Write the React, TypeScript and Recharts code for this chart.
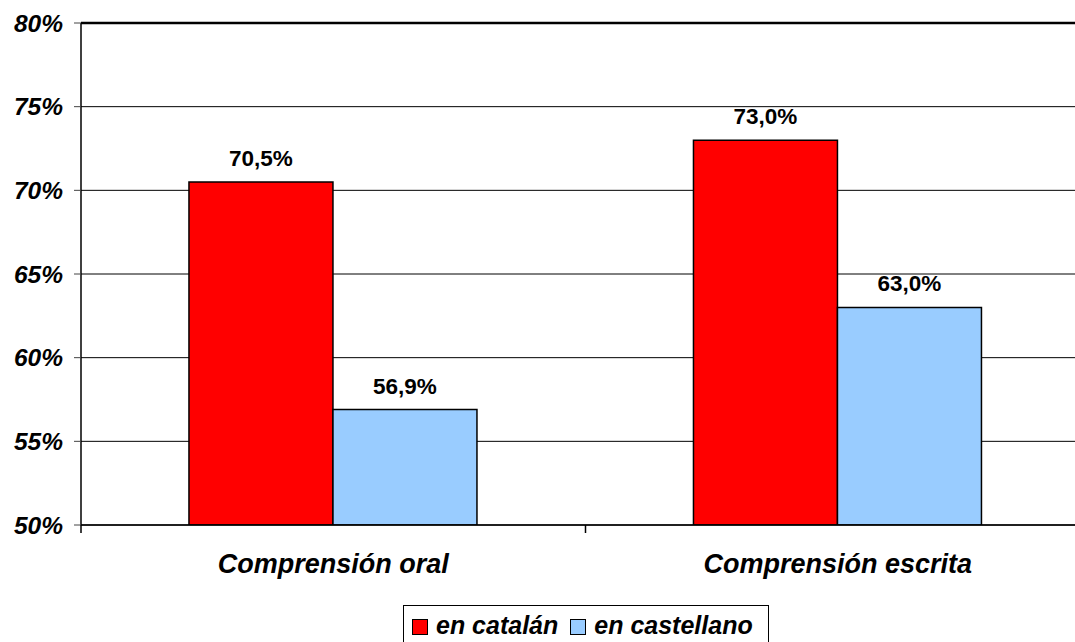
import React from "react";
import { BarChart, Bar, XAxis, YAxis, CartesianGrid, Legend, LabelList, ReferenceLine } from "recharts";

const categories = ["Comprensión oral", "Comprensión escrita"];
const catalanValues = [70.5, 73.0];
const castellanoValues = [56.9, 63.0];
const seriesNames = ["en catalán", "en castellano"];
const yTicks = [50, 55, 60, 65, 70, 75, 80];

const COLORS = ["#FF0000", "#99CCFF"];
const FONT = "'Liberation Sans', Arial, sans-serif";

const CHART_W = 1100;
const CHART_H = 642;
const MARGIN = { top: 23, right: 10, left: 0, bottom: 0 };
const Y_AXIS_W = 81;
const HALF_BAND = (CHART_W - MARGIN.left - MARGIN.right - Y_AXIS_W) / categories.length / 2;

const data = categories.map((name, i) => ({
  name,
  catalan: catalanValues[i],
  castellano: castellanoValues[i],
}));

const fmt = (v: number) => v.toFixed(1).replace(".", ",") + "%";

function CategoryTick(props: any) {
  const { x, y, payload, index } = props;
  return (
    <g>
      {index === 0 && (
        <line x1={x - HALF_BAND} x2={x - HALF_BAND} y1={y - 8} y2={y} stroke="#000" strokeWidth={1.5} />
      )}
      <line x1={x + HALF_BAND} x2={x + HALF_BAND} y1={y - 8} y2={y} stroke="#000" strokeWidth={1.5} />
      <text
        x={x}
        y={y + 40}
        textAnchor="middle"
        fontFamily={FONT}
        fontWeight="bold"
        fontStyle="italic"
        fontSize={27}
        fill="#000"
      >
        {payload.value}
      </text>
    </g>
  );
}

function LegendBox() {
  return (
    <div
      style={{
        border: "1px solid #000",
        height: 44,
        boxSizing: "border-box",
        display: "flex",
        alignItems: "flex-start",
        paddingLeft: 8,
        paddingTop: 5,
        fontFamily: FONT,
        fontWeight: "bold",
        fontStyle: "italic",
        fontSize: 25,
        background: "#fff",
      }}
    >
      {seriesNames.map((n, i) => (
        <div key={n} style={{ display: "flex", alignItems: "center", marginRight: 12 }}>
          <span
            style={{
              display: "inline-block",
              width: 14,
              height: 14,
              background: COLORS[i],
              border: "1px solid #000",
              marginRight: 8,
              marginTop: 3,
            }}
          />
          <span>{n}</span>
        </div>
      ))}
    </div>
  );
}

const labelStyle = { fontFamily: FONT, fontWeight: "bold", fontSize: 22.5, fill: "#000" };

export default function App() {
  return (
    <div
      style={{
        position: "absolute",
        left: 0,
        top: 0,
        width: 1075,
        height: 642,
        overflow: "hidden",
        background: "#fff",
      }}
    >
      <BarChart
        width={CHART_W}
        height={CHART_H}
        data={data}
        margin={MARGIN}
        barCategoryGap="21.4%"
        barGap={0}
      >
        <CartesianGrid vertical={false} stroke="#000" strokeWidth={1} />
        <ReferenceLine y={80} stroke="#000" strokeWidth={2.5} />
        <XAxis
          dataKey="name"
          height={79}
          axisLine={{ stroke: "#000", strokeWidth: 1.5 }}
          tickLine={false}
          tick={<CategoryTick />}
          interval={0}
        />
        <YAxis
          width={Y_AXIS_W}
          domain={[50, 80]}
          ticks={yTicks}
          allowDataOverflow
          tickFormatter={(v: number) => `${v}%`}
          axisLine={{ stroke: "#000", strokeWidth: 1.5 }}
          tickLine={{ stroke: "#444" }}
          tickSize={7}
          tickMargin={11}
          tick={{ fontFamily: FONT, fontWeight: "bold", fontStyle: "italic", fontSize: 24.5, fill: "#000" }}
        />
        <Legend
          verticalAlign="bottom"
          wrapperStyle={{ left: 403, top: 605, bottom: "auto", width: 366, height: 38 }}
          content={() => <LegendBox />}
        />
        <Bar dataKey="catalan" name={seriesNames[0]} fill={COLORS[0]} stroke="#000" strokeWidth={1.5} isAnimationActive={false}>
          <LabelList
            dataKey="catalan"
            position="top"
            offset={16}
            formatter={(v: any) => fmt(Number(v))}
            style={labelStyle}
          />
        </Bar>
        <Bar dataKey="castellano" name={seriesNames[1]} fill={COLORS[1]} stroke="#000" strokeWidth={1.5} isAnimationActive={false}>
          <LabelList
            dataKey="castellano"
            position="top"
            offset={16}
            formatter={(v: any) => fmt(Number(v))}
            style={labelStyle}
          />
        </Bar>
      </BarChart>
    </div>
  );
}
